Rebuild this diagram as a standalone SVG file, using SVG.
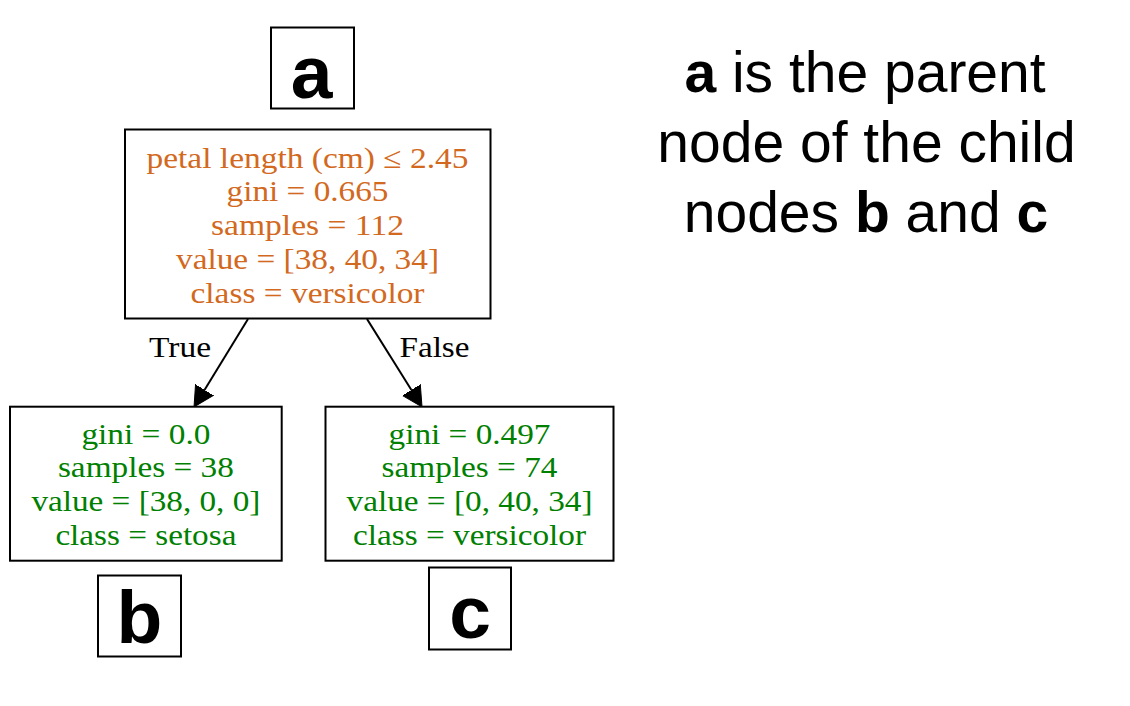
<svg xmlns="http://www.w3.org/2000/svg" width="1130" height="706" viewBox="0 0 1130 706">
<style>
.node rect{fill:#fff;stroke:#000;stroke-width:2}
.lab rect{fill:#fff;stroke:#000;stroke-width:2}
.t{font-family:"Liberation Serif","Times New Roman",serif;font-size:30px;text-anchor:middle}
.or{fill:#d2691e}
.gr{fill:#008000}
.el{font-family:"Liberation Serif","Times New Roman",serif;font-size:30px;text-anchor:middle;fill:#000}
.big{font-family:"Liberation Sans",Arial,sans-serif;font-weight:bold;font-size:75px;text-anchor:middle;fill:#000}
.side{font-family:"Liberation Sans",Arial,sans-serif;font-size:57px;text-anchor:middle;fill:#000}
.edge{stroke:#000;stroke-width:2;fill:none}
</style>
<defs>
<marker id="ah" markerUnits="userSpaceOnUse" markerWidth="22" markerHeight="24" viewBox="0 -12 22 24" refX="0" refY="0" orient="auto">
<path d="M0,-10.5 L20,0 L0,10.5 z" fill="#000" stroke="#000" stroke-width="1"/>
</marker>
</defs>
<rect width="1130" height="706" fill="#fff"/>

<g id="connectors">
<line class="edge" x1="248" y1="319" x2="204.5" y2="389.9" marker-end="url(#ah)"/>
<line class="edge" x1="367" y1="319" x2="411.4" y2="390" marker-end="url(#ah)"/>
<text class="el" x="180" y="357" textLength="62" lengthAdjust="spacingAndGlyphs">True</text>
<text class="el" x="434.5" y="357" textLength="70" lengthAdjust="spacingAndGlyphs">False</text>
</g>

<g id="node-a" class="node">
<rect x="125" y="129.5" width="365.5" height="189"/>
<text class="t or" x="307.5" y="167.7" textLength="322" lengthAdjust="spacingAndGlyphs">petal length (cm) ≤ 2.45</text>
<text class="t or" x="307.5" y="201.4" textLength="162" lengthAdjust="spacingAndGlyphs">gini = 0.665</text>
<text class="t or" x="307.5" y="235.1" textLength="193" lengthAdjust="spacingAndGlyphs">samples = 112</text>
<text class="t or" x="307.5" y="268.8" textLength="263" lengthAdjust="spacingAndGlyphs">value = [38, 40, 34]</text>
<text class="t or" x="307.5" y="302.5" textLength="234" lengthAdjust="spacingAndGlyphs">class = versicolor</text>
</g>

<g id="node-b" class="node">
<rect x="10" y="406.7" width="271.7" height="154"/>
<text class="t gr" x="145.9" y="443.5" textLength="129" lengthAdjust="spacingAndGlyphs">gini = 0.0</text>
<text class="t gr" x="145.9" y="477.2" textLength="176" lengthAdjust="spacingAndGlyphs">samples = 38</text>
<text class="t gr" x="145.9" y="510.9" textLength="229" lengthAdjust="spacingAndGlyphs">value = [38, 0, 0]</text>
<text class="t gr" x="145.9" y="544.6" textLength="181" lengthAdjust="spacingAndGlyphs">class = setosa</text>
</g>

<g id="node-c" class="node">
<rect x="325.5" y="406.7" width="288" height="154"/>
<text class="t gr" x="469.5" y="443.5" textLength="162" lengthAdjust="spacingAndGlyphs">gini = 0.497</text>
<text class="t gr" x="469.5" y="477.2" textLength="176" lengthAdjust="spacingAndGlyphs">samples = 74</text>
<text class="t gr" x="469.5" y="510.9" textLength="246" lengthAdjust="spacingAndGlyphs">value = [0, 40, 34]</text>
<text class="t gr" x="469.5" y="544.6" textLength="233" lengthAdjust="spacingAndGlyphs">class = versicolor</text>
</g>

<g id="label-a" class="lab">
<rect x="271" y="27.5" width="83" height="81"/>
<text class="big" x="311.5" y="98">a</text>
</g>
<g id="label-b" class="lab">
<rect x="98" y="575.5" width="83" height="81"/>
<text class="big" x="139.5" y="643">b</text>
</g>
<g id="label-c" class="lab">
<rect x="429" y="567.5" width="82" height="82"/>
<text class="big" x="470" y="638">c</text>
</g>

<g id="caption">
<text class="side" x="865" y="92"><tspan font-weight="bold">a</tspan> is the parent</text>
<text class="side" x="866.5" y="162">node of the child</text>
<text class="side" x="866" y="231.5">nodes <tspan font-weight="bold">b</tspan> and <tspan font-weight="bold">c</tspan></text>
</g>
</svg>
